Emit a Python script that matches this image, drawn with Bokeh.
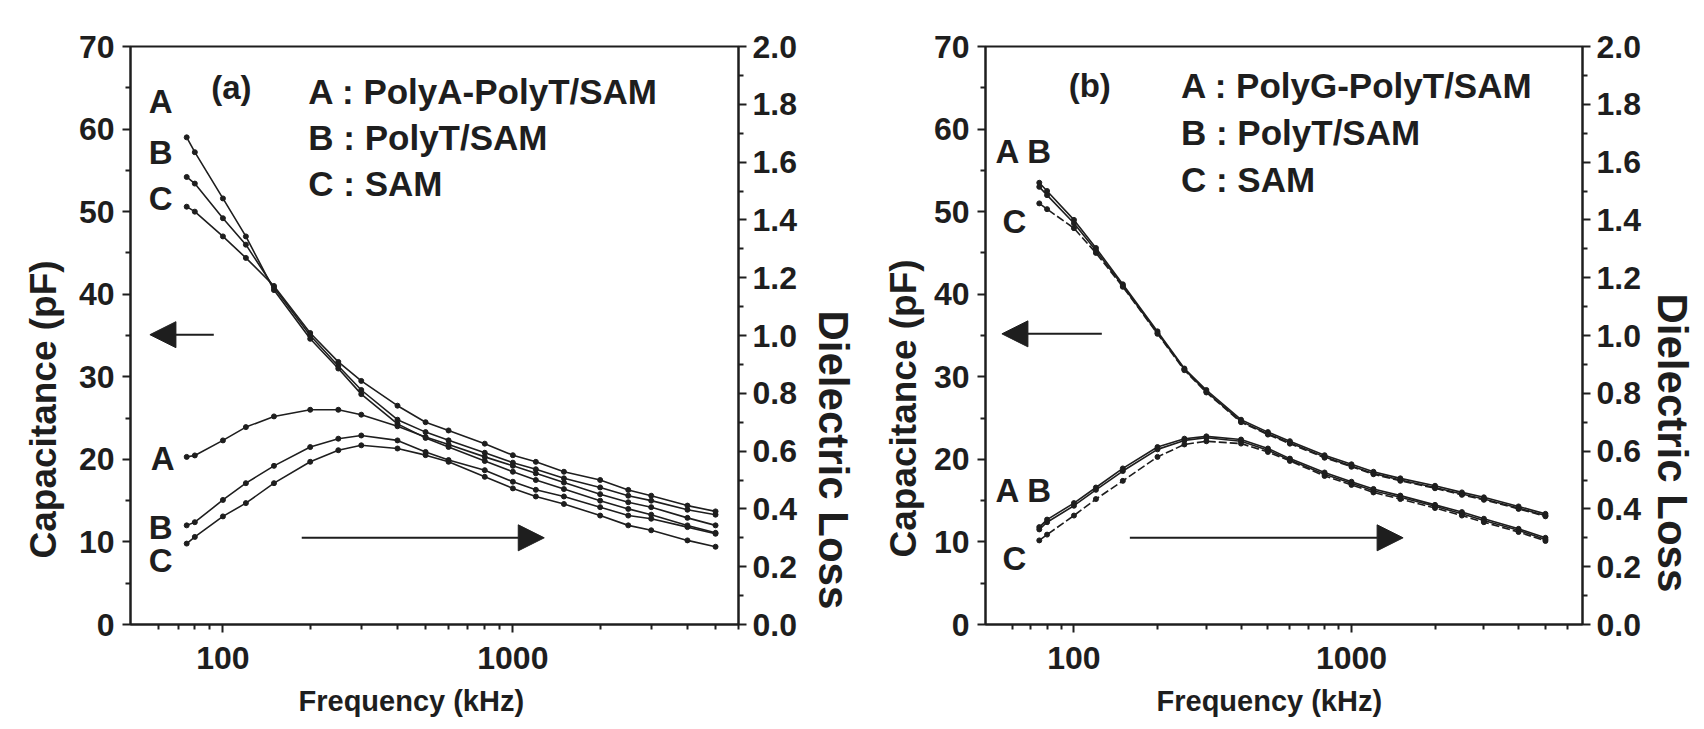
from bokeh.plotting import figure
from bokeh.models import Range1d, LinearAxis, FixedTicker, NumeralTickFormatter, Arrow, NormalHead, Label, Title
from bokeh.layouts import row
from bokeh.embed import file_html
from bokeh.resources import INLINE

# ---------------- data ----------------
freq = [75, 80, 100, 120, 150, 200, 250, 300, 400, 500, 600, 800, 1000, 1200, 1500, 2000, 2500, 3000, 4000, 5000]

# panel (a) capacitance (pF)
capA_a = [59.0, 57.2, 51.6, 47.0, 40.5, 34.6, 31.0, 27.9, 24.3, 22.6, 21.5, 19.8, 18.5, 17.5, 16.4, 15.0, 14.0, 13.3, 12.0, 11.1]
capB_a = [54.2, 53.4, 49.2, 46.0, 40.8, 35.0, 31.3, 28.4, 24.8, 23.3, 22.3, 20.8, 19.6, 18.8, 17.7, 16.6, 15.6, 15.0, 13.9, 13.3]
capC_a = [50.6, 50.0, 47.0, 44.4, 41.0, 35.3, 31.8, 29.5, 26.5, 24.5, 23.5, 21.9, 20.5, 19.7, 18.5, 17.5, 16.3, 15.6, 14.4, 13.7]
# panel (a) dielectric loss
lossA_a = [0.580, 0.585, 0.637, 0.683, 0.720, 0.743, 0.743, 0.726, 0.686, 0.649, 0.623, 0.580, 0.549, 0.523, 0.491, 0.451, 0.423, 0.406, 0.369, 0.343]
lossB_a = [0.343, 0.354, 0.431, 0.489, 0.549, 0.614, 0.643, 0.654, 0.637, 0.597, 0.569, 0.534, 0.494, 0.466, 0.443, 0.406, 0.377, 0.366, 0.337, 0.314]
lossC_a = [0.280, 0.303, 0.374, 0.420, 0.489, 0.563, 0.603, 0.620, 0.609, 0.586, 0.563, 0.511, 0.471, 0.443, 0.417, 0.377, 0.343, 0.326, 0.291, 0.269]

# panel (b) capacitance (pF)
capA_b = [53.5, 52.5, 49.0, 45.6, 41.2, 35.5, 31.0, 28.4, 24.8, 23.3, 22.2, 20.5, 19.4, 18.5, 17.7, 16.8, 16.0, 15.4, 14.3, 13.4]
capB_b = [53.0, 52.0, 48.6, 45.3, 41.0, 35.3, 30.9, 28.2, 24.6, 23.1, 22.0, 20.3, 19.2, 18.3, 17.5, 16.6, 15.8, 15.2, 14.1, 13.2]
capC_b = [51.0, 50.3, 48.0, 45.0, 40.9, 35.2, 30.8, 28.1, 24.5, 23.0, 21.9, 20.2, 19.1, 18.2, 17.4, 16.5, 15.7, 15.1, 14.0, 13.1]
# panel (b) dielectric loss
lossA_b = [0.337, 0.363, 0.420, 0.474, 0.540, 0.614, 0.643, 0.651, 0.640, 0.609, 0.574, 0.526, 0.494, 0.469, 0.446, 0.414, 0.389, 0.366, 0.331, 0.300]
lossB_b = [0.329, 0.354, 0.411, 0.466, 0.531, 0.606, 0.637, 0.646, 0.634, 0.603, 0.569, 0.520, 0.489, 0.463, 0.440, 0.409, 0.383, 0.360, 0.326, 0.294]
lossC_b = [0.291, 0.311, 0.377, 0.434, 0.497, 0.580, 0.623, 0.634, 0.626, 0.597, 0.566, 0.514, 0.483, 0.457, 0.434, 0.403, 0.377, 0.354, 0.320, 0.289]

cap_ticks = [0, 10, 20, 30, 40, 50, 60, 70]
loss_ticks = [0.0, 0.2, 0.4, 0.6, 0.8, 1.0, 1.2, 1.4, 1.6, 1.8, 2.0]
freq_ticks = [100, 1000]

legend_a = ["A : PolyA-PolyT/SAM", "B : PolyT/SAM", "C : SAM"]
legend_b = ["A : PolyG-PolyT/SAM", "B : PolyT/SAM", "C : SAM"]
x_title = "Frequency (kHz)"
y_title = "Capacitance (pF)"
y2_title = "Dielectric Loss"

FONT = "Liberation Sans"
INK = "#1e1e1e"


def side_title(p, text, side, offset, size, standoff):
    p.add_layout(Title(text=text, align="left", offset=offset, text_font=FONT,
                       text_font_style="bold", text_font_size=size, text_color=INK,
                       standoff=standoff), side)


def make_panel(width, height, borders, xmax, series, dashes, offs, standoffs, xlab_standoff):
    bl, br, bt, bb = borders
    p = figure(width=width, height=height, x_axis_type="log",
               x_range=Range1d(48, xmax), y_range=Range1d(0, 70),
               output_backend="svg", toolbar_location=None,
               min_border_left=bl, min_border_right=br,
               min_border_top=bt, min_border_bottom=bb,
               background_fill_color="white", border_fill_color="white")
    p.extra_y_ranges = {"loss": Range1d(0, 2.0)}
    p.add_layout(LinearAxis(y_range_name="loss"), "right")
    p.xgrid.grid_line_color = None
    p.ygrid.grid_line_color = None
    p.outline_line_color = INK
    p.outline_line_width = 2

    minor_x = [60, 70, 80, 90, 200, 300, 400, 500, 600, 700, 800, 900,
               2000, 3000, 4000, 5000, 6000]
    p.xaxis.ticker = FixedTicker(ticks=freq_ticks, minor_ticks=minor_x)
    p.xaxis.formatter = NumeralTickFormatter(format="0")
    p.yaxis[0].ticker = FixedTicker(ticks=cap_ticks, minor_ticks=[5, 15, 25, 35, 45, 55, 65])
    p.yaxis[1].ticker = FixedTicker(ticks=loss_ticks,
                                    minor_ticks=[0.1, 0.3, 0.5, 0.7, 0.9, 1.1, 1.3, 1.5, 1.7, 1.9])
    p.yaxis[1].formatter = NumeralTickFormatter(format="0.0")

    for ax in p.axis:
        ax.axis_line_color = INK
        ax.axis_line_width = 2
        ax.major_tick_line_color = INK
        ax.minor_tick_line_color = INK
        ax.major_tick_line_width = 2
        ax.minor_tick_line_width = 2
        ax.major_tick_out = 8
        ax.major_tick_in = 0
        ax.minor_tick_out = 5
        ax.minor_tick_in = 0
        ax.major_label_text_font = FONT
        ax.major_label_text_font_style = "bold"
        ax.major_label_text_font_size = "32px"
        ax.major_label_text_color = INK
    p.xaxis.major_label_standoff = xlab_standoff
    p.yaxis[0].major_label_standoff = 8
    p.yaxis[1].major_label_standoff = 6

    off_x, off_y, off_y2 = offs
    s_x, s_y, s_y2 = standoffs
    side_title(p, x_title, "below", off_x, "29px", s_x)
    side_title(p, y_title, "left", off_y, "37px", s_y)
    side_title(p, y2_title, "right", off_y2, "42px", s_y2)

    for (vals, rng), dash in zip(series, dashes):
        kw = {} if rng is None else {"y_range_name": rng}
        p.line(freq, vals, line_color=INK, line_width=1.6, line_dash=dash, **kw)
        p.scatter(freq, vals, size=5, fill_color=INK, line_color=INK, **kw)
    return p


def add_text(p, x, y, text, align="center", size="33px"):
    p.add_layout(Label(x=x, y=y, text=text, text_font=FONT, text_font_style="bold",
                       text_font_size=size, text_color=INK, text_align=align,
                       text_baseline="middle"))


def add_arrow(p, x0, x1, y):
    p.add_layout(Arrow(end=NormalHead(size=26, fill_color=INK, line_color=INK),
                       x_start=x0, y_start=y, x_end=x1, y_end=y,
                       line_color=INK, line_width=2))


# ---------------- panel (a) ----------------
pa = make_panel(873, 728, (130, 135, 46, 104), 6000,
                [(capA_a, None), (capB_a, None), (capC_a, None),
                 (lossA_a, "loss"), (lossB_a, "loss"), (lossC_a, "loss")],
                ["solid"] * 6, (168, 66, 264), (22, 24, 21), 14)
add_text(pa, 61, 63.3, "A")
add_text(pa, 61, 57.2, "B")
add_text(pa, 61, 51.6, "C")
add_text(pa, 62, 20.1, "A")
add_text(pa, 61, 11.7, "B")
add_text(pa, 61, 7.8, "C")
add_text(pa, 107, 65.0, "(a)")
for i, t in enumerate(legend_a):
    add_text(pa, 197, 64.6 - i * 5.6, t, align="left", size="35px")
add_arrow(pa, 93, 56, 35.1)
add_arrow(pa, 187, 1283, 10.5)

# ---------------- panel (b) ----------------
pb = make_panel(830, 728, (110, 121, 46, 104), 6800,
                [(capA_b, None), (capB_b, None), (capC_b, None),
                 (lossA_b, "loss"), (lossB_b, "loss"), (lossC_b, "loss")],
                ["solid", "solid", "8 3", "solid", "solid", "8 3"], (171, 67, 247), (22, 14, 10), 14)
add_text(pb, 66, 57.3, "A B")
add_text(pb, 61, 48.8, "C")
add_text(pb, 66, 16.2, "A B")
add_text(pb, 61, 8.0, "C")
add_text(pb, 114, 65.3, "(b)")
for i, t in enumerate(legend_b):
    add_text(pb, 243, 65.3 - i * 5.7, t, align="left", size="35px")
add_arrow(pb, 126, 55, 35.2)
add_arrow(pb, 159, 1535, 10.5)

layout = row(pa, pb)
open("out.html", "w").write(file_html(layout, INLINE))
